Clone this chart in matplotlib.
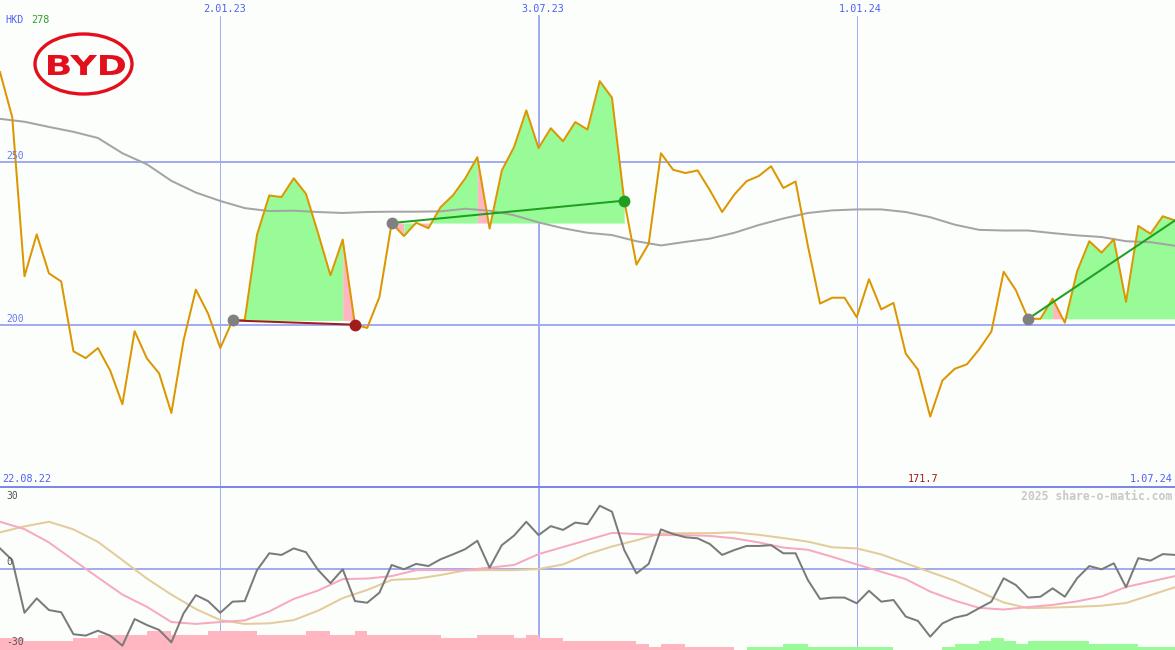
import numpy as np
import matplotlib
matplotlib.use("Agg")
import matplotlib.pyplot as plt
from matplotlib.patches import Ellipse, PathPatch
from matplotlib.textpath import TextPath
from matplotlib.font_manager import FontProperties
from matplotlib.transforms import Affine2D

W, H = 1175, 650
BG = "#fcfefc"

# weekly closes, 29.08.22 .. 1.07.24
dates = np.arange(np.datetime64("2022-08-29"), np.datetime64("2024-07-02"), np.timedelta64(7, "D"))
price = [277.8, 263.9, 214.9, 227.8, 215.8, 213.3, 191.8, 189.7, 192.8, 185.9,
         175.5, 198.0, 189.6, 185.0, 172.8, 195.2, 210.8, 203.4, 192.8, 201.3,
         201.5, 227.7, 239.8, 239.3, 245.1, 240.3, 228.0, 215.2, 226.2, 200.0,
         199.0, 208.5, 231.3, 227.3, 231.4, 229.7, 236.2, 239.8, 245.0, 251.6,
         229.6, 247.5, 254.7, 266.0, 254.4, 260.5, 256.5, 262.4, 260.1, 275.0,
         269.9, 238.2, 218.5, 224.9, 252.8, 247.7, 246.7, 247.5, 241.4, 234.7,
         240.1, 244.2, 245.8, 248.8, 242.1, 244.1, 224.4, 206.5, 208.3, 208.3,
         202.3, 214.0, 204.7, 206.7, 191.1, 186.1, 171.7, 182.8, 186.4, 187.8,
         192.4, 197.9, 216.3, 210.6, 201.8, 201.8, 208.0, 200.6, 216.4, 225.7,
         222.2, 226.3, 207.0, 230.4, 228.0, 233.4, 232.1]

# slow moving average, read every 2 weeks
ma_dates = dates[::2]
ma = [263.4, 262.5, 260.9, 259.4, 257.5, 252.8, 249.4, 244.3, 240.7, 238.1,
      235.9, 235.0, 235.1, 234.7, 234.4, 234.7, 234.8, 234.8, 234.9, 235.7,
      235.1, 233.7, 231.5, 229.7, 228.3, 227.6, 225.7, 224.4, 225.5, 226.5,
      228.3, 230.7, 232.7, 234.4, 235.2, 235.5, 235.5, 234.7, 233.1, 230.8,
      229.2, 229.0, 229.0, 228.2, 227.5, 227.0, 225.7, 225.4, 224.3]

# oscillator panel
osc = [7.4, 3.1, -16.3, -11.0, -15.3, -16.1, -24.2, -24.7, -22.9, -24.7,
       -28.4, -18.6, -20.8, -22.6, -27.2, -16.5, -9.8, -12.0, -16.3, -12.2,
       -12.0, -0.6, 5.6, 5.0, 7.4, 6.0, -0.6, -5.4, -0.3, -12.0,
       -12.6, -8.9, 1.3, -0.3, 1.7, 0.9, 3.4, 5.2, 7.1, 10.2,
       0.3, 8.6, 12.1, 17.2, 12.3, 15.6, 14.2, 16.9, 16.3, 23.1,
       20.9, 6.8, -1.8, 1.7, 14.4, 12.7, 11.5, 11.1, 9.0, 5.0,
       6.8, 8.3, 8.3, 8.6, 5.6, 5.6, -4.2, -11.2, -10.7, -10.7,
       -12.8, -8.2, -12.2, -11.6, -17.7, -19.3, -25.1, -20.2, -18.1, -17.1,
       -14.6, -12.2, -3.6, -6.1, -10.7, -10.4, -7.3, -10.4, -3.6, 0.9,
       -0.3, 1.9, -6.9, 3.8, 2.9, 5.3, 5.0]
osc_fast = [17.2, 14.5, 9.6, 3.1, -3.3, -9.6, -14.1, -19.7, -20.4, -19.7,
            -19.1, -15.8, -11.2, -8.1, -3.9, -3.7, -2.8, -0.6, -0.6, -0.6,
            0.3, 1.3, 5.3, 7.9, 10.5, 13.1, 12.7, 12.3, 12.3, 12.0,
            11.1, 9.6, 7.7, 6.9, 4.3, 1.5, -1.2, -3.9, -8.5, -11.8,
            -14.5, -15.1, -14.2, -13.4, -12.1, -10.3, -6.8, -4.8, -2.8]
osc_slow = [13.3, 15.5, 17.2, 14.4, 9.8, 3.1, -3.7, -9.6, -14.9, -19.0,
            -20.4, -20.2, -19.0, -15.5, -10.9, -7.9, -4.2, -3.8, -2.4, -0.7,
            -0.6, -0.6, -0.2, 1.5, 5.3, 8.1, 10.4, 12.9, 13.0, 13.0,
            13.3, 12.4, 11.2, 9.9, 7.8, 7.4, 5.2, 1.9, -1.3, -4.5,
            -8.5, -12.5, -14.6, -14.4, -14.1, -13.7, -12.7, -9.8, -6.9]

# signal strength bars (negative = pink, positive = green), one per week
strength = [-4, -4, -3, -3, -3, -3, -4, -4, -5, -5, -5, -5, -6, -6, -5, -5,
            -5, -6, -6, -6, -6, -5, -5, -5, -5, -6, -6, -5, -5, -6, -5, -5,
            -5, -5, -5, -5, -4, -4, -4, -5, -5, -5, -4, -5, -4, -4, -3, -3,
            -3, -3, -3, -3, -2, -1, -2, -2, -1, -1, -1, -1, 0, 1, 1, 1,
            2, 2, 1, 1, 1, 1, 1, 1, 1, 0, 0, 0, 0, 1, 2, 2,
            3, 4, 3, 2, 3, 3, 3, 3, 3, 2, 2, 2, 2, 1, 1, 1]

# trades: entry index, exit index, closed?
trades = [(19, 29, True), (32, 51, True), (84, 96, False)]

grid_dates = [np.datetime64("2023-01-02"), np.datetime64("2023-07-03"), np.datetime64("2024-01-01")]
grid_labels = ["2.01.23", "3.07.23", "1.01.24"]

ORANGE = "#dc9600"
GREEN_FILL = "#98fb98"
PINK_FILL = "#ffb6c1"
GRID = "#a3acf0"
BLUE_TXT = "#5060f0"
PX = 0.72  # one pixel in points

fig = plt.figure(figsize=(W / 100, H / 100), dpi=100, facecolor=BG)
ax = fig.add_axes([0, 163 / H, 1, 487 / H])
ax_bar = fig.add_axes([0, 0, 1, 163 / H])
ax_osc = fig.add_axes([0, 0, 1, 163 / H])
for a in (ax, ax_bar, ax_osc):
    a.set_axis_off()
    a.set_xlim(dates[0], dates[-1])
ax.set_ylim(150, 300)
ax_bar.set_ylim(0, 52.6)
ax_osc.set_ylim(-30, 30)

# --- price panel ---
for lvl in (250, 200):
    ax.axhline(lvl, color=GRID, lw=2 * PX, zorder=1)
for d, lw in zip(grid_dates, (1, 2, 1)):
    ax.axvline(d, ymax=(487 - 16) / 487, color=GRID, lw=lw * PX, zorder=1)
    ax_bar.axvline(d, color=GRID, lw=lw * PX, zorder=1)

# shade each trade: green while the close is at/above entry, pink below
for start, end, closed in trades:
    base = price[start]
    seg_cols = [GREEN_FILL if price[i + 1] >= base else PINK_FILL for i in range(start, end)]
    a = start
    for k in range(1, len(seg_cols) + 1):
        if k == len(seg_cols) or seg_cols[k] != seg_cols[k - 1]:
            b = start + k
            ax.fill_between(dates[a:b + 1], price[a:b + 1], base,
                            color=seg_cols[k - 1], lw=0, zorder=2)
            a = b

ax.plot(ma_dates, ma, color="#a4a4a4", lw=2 * PX, zorder=3)
ax.plot(dates, price, color=ORANGE, lw=2 * PX, zorder=4)

for start, end, closed in trades:
    base = price[start]
    col = "#1f9e1f" if price[end] >= base else "#a21c1c"
    ax.plot([dates[start], dates[end]], [base, price[end]], color=col, lw=2 * PX, zorder=5)
    ax.plot(dates[start], base, "o", ms=7.5, color="#808080", zorder=6)
    if closed:
        ax.plot(dates[end], price[end], "o", ms=7.5, color=col, zorder=6)

# --- oscillator panel ---
bar_cols = [PINK_FILL if v < 0 else "#98fb98" for v in strength]
ax_bar.bar(dates[:-1], np.abs(strength), width=np.timedelta64(7, "D"), align="edge",
           color=bar_cols, lw=0, antialiased=False, zorder=2)
ax_osc.axhline(0, color=GRID, lw=2 * PX, zorder=1)
ax_osc.axhline(30, color="#7b87ea", lw=2 * PX, clip_on=False, zorder=1)
ax_osc.plot(ma_dates, osc_slow, color="#e4cb9a", lw=2 * PX, zorder=2)
ax_osc.plot(ma_dates, osc_fast, color="#f7a9c0", lw=2 * PX, zorder=3)
ax_osc.plot(dates, osc, color="#7a7a7a", lw=2 * PX, zorder=4)


def ftext(x, y, s, **kw):
    kw.setdefault("family", "DejaVu Sans Mono")
    kw.setdefault("fontsize", 7.3)
    kw.setdefault("va", "center")
    fig.text(x / W, 1 - y / H, s, **kw)


ftext(5, 20, "HKD", color=BLUE_TXT)
ftext(31, 20, "278", color="#2f9f2f")
for x, lab in zip((225, 542.5, 860.5), grid_labels):
    ftext(x, 9, lab, color=BLUE_TXT, ha="center")
ftext(2, 478.5, "22.08.22", color=BLUE_TXT)
ftext(1172.5, 478.5, "1.07.24", color=BLUE_TXT, ha="right")
ftext(923.5, 478.5, f"{min(price):.1f}", color="#a01c1c", ha="center")
ftext(1172.5, 496, "2025 share-o-matic.com", color="#c8c8c8", ha="right",
      fontsize=8.3, fontweight="bold")
ftext(6, 156, "250", color="#6a78f0", fontsize=7)
ftext(6, 319, "200", color="#6a78f0", fontsize=7)
ftext(6, 496, "30", color="#555555", fontsize=7)
ftext(6, 562, "0", color="#555555", fontsize=7)
ftext(6, 642, "-30", color="#555555", fontsize=7)

# BYD logo (pixel coordinates, origin bottom-left)
RED = "#e30f1c"
fig.add_artist(Ellipse((83.5 / W, 1 - 64 / H), 97 / W, 60 / H, transform=fig.transFigure,
                       fill=False, ec=RED, lw=2.4))
tp = TextPath((0, 0), "BYD", size=1, prop=FontProperties(family="DejaVu Sans", weight="bold"))
bb = tp.get_extents()
sx, sy = 77 / bb.width, 20 / bb.height
tr = Affine2D().translate(-bb.x0, -bb.y0).scale(sx, sy).translate(48, H - 75)
fig.add_artist(PathPatch(tp, transform=tr, fc=RED, ec="none"))

fig.savefig("out.png", dpi=100, facecolor=BG)
